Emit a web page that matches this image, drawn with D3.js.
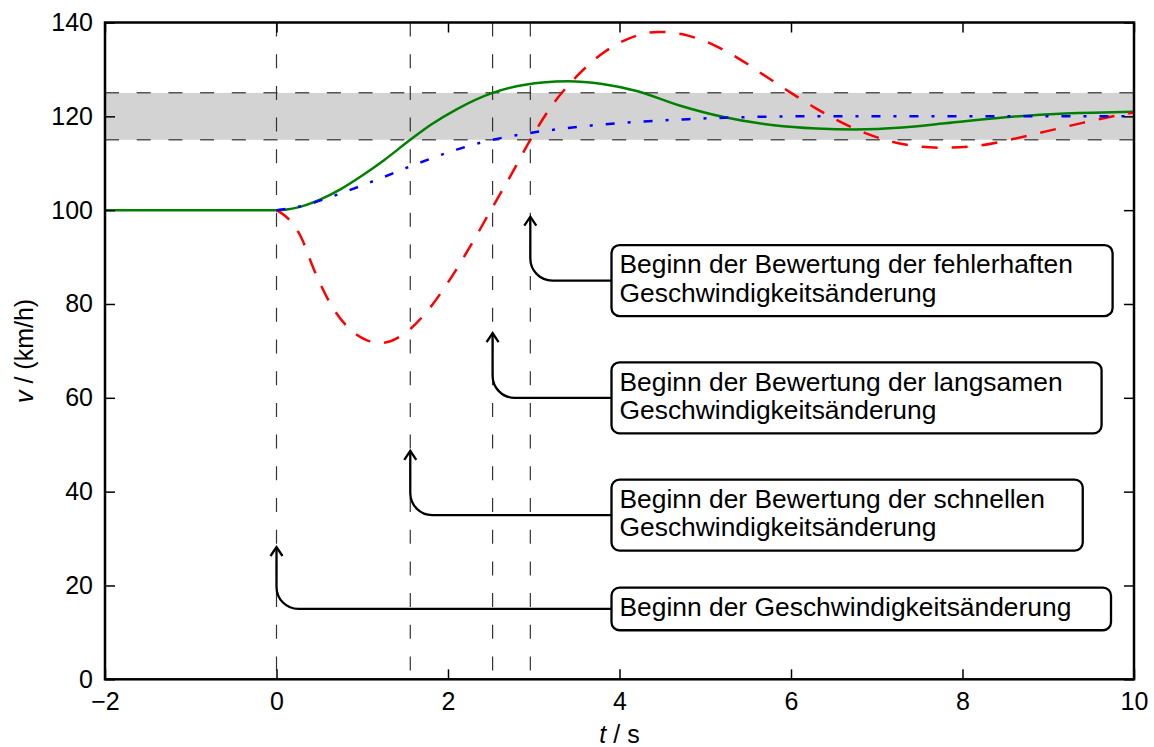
<!DOCTYPE html>
<html>
<head>
<meta charset="utf-8">
<script src="https://cdn.jsdelivr.net/npm/d3@7"></script>
<style>
  body { margin: 0; background: #fff; }
  svg text { font-family: "Liberation Sans", Arial, Helvetica, sans-serif; fill: #000; }
</style>
</head>
<body>
<svg id="chart" width="1154" height="747"></svg>
<script>
// ---- axis ticks ----
const tTicks = [-2, 0, 2, 4, 6, 8, 10];
const vTicks = [0, 20, 40, 60, 80, 100, 120, 140];

// ---- tolerance band (km/h) ----
const bandLimits = [115, 125];

// ---- evaluation start times (s) ----
const markerTimes = [0, 1.56, 2.52, 2.96];

// ---- fast response (solid green) ----
const greenT = [-2, 0, 0.25, 0.5, 0.75, 1.0, 1.25, 1.56, 1.8, 2.1, 2.52, 2.8, 3.1, 3.4, 3.8, 4.2, 4.7, 5.2, 5.8, 6.3, 6.75, 7.3, 7.8, 8.5, 9.2, 10];
const greenV = [100, 100, 100.6, 102.2, 104.5, 107.4, 110.6, 115.0, 118.2, 121.5, 125.0, 126.4, 127.2, 127.5, 126.9, 125.4, 122.3, 119.9, 118.1, 117.4, 117.2, 117.6, 118.5, 119.8, 120.6, 121.0];

// ---- faulty response (dashed red) ----
const redT = [0, 0.13, 0.28, 0.44, 0.63, 0.87, 1.05, 1.22, 1.5, 1.75, 2.0, 2.25, 2.5, 2.75, 2.96, 3.2, 3.5, 3.8, 4.1, 4.45, 4.8, 5.1, 5.4, 5.7, 6.0, 6.3, 6.6, 6.9, 7.3, 7.75, 8.2, 8.6, 9.0, 9.4, 9.7, 10];
const redV = [100, 98.3, 94.5, 87.2, 80.0, 74.4, 72.3, 71.7, 73.8, 78.3, 84.6, 92.0, 100.0, 108.0, 115.0, 122.0, 128.5, 133.4, 136.5, 138.0, 137.2, 135.2, 132.2, 128.6, 125.0, 121.6, 118.6, 116.2, 114.1, 113.3, 113.8, 115.2, 116.9, 118.6, 119.8, 120.8];

// ---- slow response (dash-dotted blue) ----
const blueT = [0, 0.3, 0.6, 0.9, 1.2, 1.5, 1.8, 2.1, 2.52, 2.9, 3.3, 3.7, 4.2, 4.8, 5.4, 6.2, 10];
const blueV = [100, 100.9, 102.6, 104.6, 106.7, 108.9, 111.0, 112.9, 115.0, 116.3, 117.3, 118.1, 118.8, 119.4, 119.8, 120, 120];

// ---- annotations ----
const annotationLines = [
  ["Beginn der Geschwindigkeitsänderung"],
  ["Beginn der Bewertung der schnellen", "Geschwindigkeitsänderung"],
  ["Beginn der Bewertung der langsamen", "Geschwindigkeitsänderung"],
  ["Beginn der Bewertung der fehlerhaften", "Geschwindigkeitsänderung"]
];
const annotationTipT = [0, 1.56, 2.52, 2.96];
const annotationTipV = [28.2, 48.7, 73.8, 98.6];
const annotationBoxV = [15, 35, 60, 85];
const annotationBoxT = 4;

// ---- layout ----
const svg = d3.select("#chart");
const plotL = 105, plotR = 1134, plotT = 22.5, plotB = 679.3;

const x = d3.scaleLinear().domain([-2, 10]).range([plotL, plotR]);
const y = d3.scaleLinear().domain([0, 140]).range([plotB, plotT]);

const plot = svg.append("g");

// band
plot.append("rect")
  .attr("x", x(-2)).attr("width", x(10) - x(-2))
  .attr("y", y(bandLimits[1])).attr("height", y(bandLimits[0]) - y(bandLimits[1]))
  .attr("fill", "#d3d3d3");

plot.selectAll("line.band").data(bandLimits).join("line")
  .attr("class", "band")
  .attr("x1", x(-2)).attr("x2", x(10))
  .attr("y1", d => y(d)).attr("y2", d => y(d))
  .attr("stroke", "#555").attr("stroke-width", 1.5)
  .attr("stroke-dasharray", "14,17.7");

// evaluation markers
plot.selectAll("line.marker").data(markerTimes).join("line")
  .attr("class", "marker")
  .attr("x1", d => x(d)).attr("x2", d => x(d))
  .attr("y1", y(140)).attr("y2", y(0))
  .attr("stroke", "#333").attr("stroke-width", 1.2)
  .attr("stroke-dasharray", "14,17.7");

// curves
const lineGen = d3.line().x(d => x(d[0])).y(d => y(d[1])).curve(d3.curveMonotoneX);
const series = [
  { t: greenT, v: greenV, color: "#008000", dash: null },
  { t: redT, v: redV, color: "#ff0000", dash: "16,14" },
  { t: blueT, v: blueV, color: "#0000ff", dash: "9,13,3,13" }
];
series.forEach(s => {
  plot.append("path")
    .datum(d3.zip(s.t, s.v))
    .attr("d", lineGen)
    .attr("fill", "none")
    .attr("stroke", s.color)
    .attr("stroke-width", 2.5)
    .attr("stroke-dasharray", s.dash);
});

// axes (inward ticks on all sides)
const tickFont = "25px";
const axB = svg.append("g").attr("transform", `translate(0,${plotB})`)
  .call(d3.axisBottom(x).tickValues(tTicks).tickSize(-10).tickPadding(13)
    .tickFormat(d => d < 0 ? "\u2212" + Math.abs(d) : String(d)));
const axT = svg.append("g").attr("transform", `translate(0,${plotT})`)
  .call(d3.axisTop(x).tickValues(tTicks).tickSize(-10).tickFormat(""));
const axL = svg.append("g").attr("transform", `translate(${plotL},0)`)
  .call(d3.axisLeft(y).tickValues(vTicks).tickSize(-10).tickPadding(12));
const axR = svg.append("g").attr("transform", `translate(${plotR},0)`)
  .call(d3.axisRight(y).tickValues(vTicks).tickSize(-10).tickFormat(""));
[axB, axT, axL, axR].forEach(a => {
  a.select(".domain").remove();
  a.selectAll(".tick line").attr("stroke", "#000").attr("stroke-width", 1.5);
  a.selectAll(".tick text").attr("font-size", tickFont)
    .attr("font-family", "Liberation Sans, Arial, sans-serif").attr("fill", "#000");
});

// frame
svg.append("rect")
  .attr("x", plotL).attr("y", plotT)
  .attr("width", plotR - plotL).attr("height", plotB - plotT)
  .attr("fill", "none").attr("stroke", "#000").attr("stroke-width", 2.5);

// axis labels
const xl = svg.append("text")
  .attr("x", (plotL + plotR) / 2).attr("y", 743)
  .attr("text-anchor", "middle").attr("font-size", tickFont);
xl.append("tspan").attr("font-style", "italic").text("t");
xl.append("tspan").text(" / s");

const yl = svg.append("text")
  .attr("transform", `translate(33,${(plotT + plotB) / 2}) rotate(-90)`)
  .attr("text-anchor", "middle").attr("font-size", tickFont);
yl.append("tspan").attr("font-style", "italic").text("v");
yl.append("tspan").text(" / (km/h)");

// annotation boxes with bent arrows
const lineH = 28.4, boxFont = "26.4px", rCorner = 22;
annotationLines.forEach((lines, i) => {
  const g = svg.append("g");
  const tipX = x(annotationTipT[i]), tipY = y(annotationTipV[i]);
  const cy = y(annotationBoxV[i]);
  const tx = x(annotationBoxT);
  const boxLeft = tx - 8;

  const textEls = lines.map((ln, k) =>
    g.append("text")
      .attr("x", tx)
      .attr("y", cy - (lines.length - 1) * lineH / 2 + 7 + k * lineH)
      .attr("font-size", boxFont)
      .text(ln));
  const maxW = d3.max(textEls, t => t.node().getComputedTextLength());
  const h = lines.length * lineH + 14.2;
  const w = 1.07 * maxW + 16;

  g.insert("rect", "text")
    .attr("x", boxLeft).attr("y", cy - h / 2)
    .attr("width", w).attr("height", h)
    .attr("rx", 8).attr("ry", 8)
    .attr("fill", "#fff").attr("stroke", "#000").attr("stroke-width", 2.3);

  svg.append("path")
    .attr("d", `M${boxLeft},${cy} H${tipX + rCorner} A${rCorner},${rCorner} 0 0 1 ${tipX},${cy - rCorner} V${tipY}`)
    .attr("fill", "none").attr("stroke", "#000").attr("stroke-width", 2.3);
  svg.append("path")
    .attr("d", `M${tipX - 6},${tipY + 9} L${tipX},${tipY} L${tipX + 6},${tipY + 9}`)
    .attr("fill", "none").attr("stroke", "#000").attr("stroke-width", 2.3);
});
</script>
</body>
</html>
